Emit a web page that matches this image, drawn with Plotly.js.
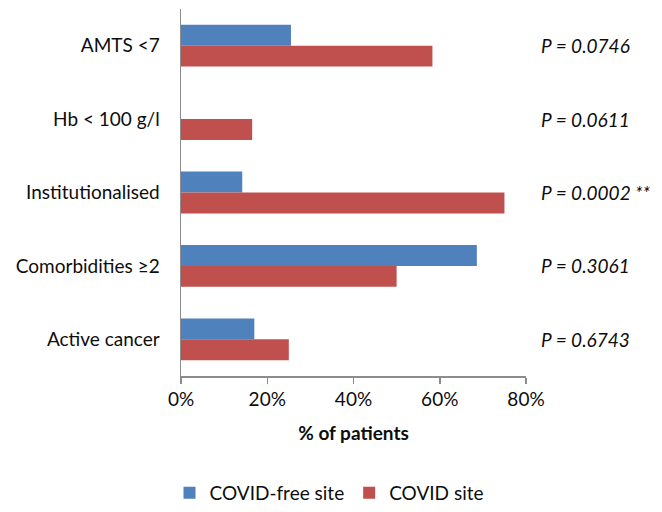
<!DOCTYPE html>
<html>
<head>
<meta charset="utf-8">
<script src="https://cdn.plot.ly/plotly-3.0.1.min.js"></script>
<style>html,body{margin:0;padding:0;background:#fff;}#chart{width:662px;height:512px;}</style>
</head>
<body>
<div id="chart"></div>
<script>
const categories = ["AMTS <7", "Hb < 100 g/l", "Institutionalised", "Comorbidities ≥2", "Active cancer"];
const covidFree = [25.5, 0, 14.2, 68.6, 17.0];
const covidSite = [58.3, 16.5, 75.0, 50.0, 25.0];
const pValues = ["P = 0.0746", "P = 0.0611", "P = 0.0002 **", "P = 0.3061", "P = 0.6743"];
const xTickVals = [0, 20, 40, 60, 80];
const xTickText = ["0%", "20%", "40%", "60%", "80%"];

const FONT = "Lato, 'Open Sans', sans-serif";
const TXT = "#0d0d0d";

const traces = [
  {type: "bar", orientation: "h", name: "COVID-free site", y: categories, x: covidFree,
   marker: {color: "#4F81BD"}},
  {type: "bar", orientation: "h", name: "COVID site", y: categories, x: covidSite,
   marker: {color: "#C0504D"}}
];

const annotations = categories.map((c, i) => ({
  xref: "paper", yref: "y", x: 1.038, y: c, xanchor: "left", yanchor: "middle",
  text: "<i>" + pValues[i] + "</i>", showarrow: false,
  font: {family: FONT, size: 19, color: TXT}
}));

const layout = {
  width: 662, height: 512,
  margin: {l: 181, r: 136, t: 9, b: 136},
  paper_bgcolor: "#fff", plot_bgcolor: "#fff",
  barmode: "group", bargap: 0.43, bargroupgap: 0,
  font: {family: FONT, size: 19, color: TXT},
  xaxis: {
    range: [0, 80], tickvals: xTickVals, ticktext: xTickText,
    showgrid: false, zeroline: false, showline: true, linecolor: "#8c8c8c", linewidth: 1.5,
    ticks: "outside", ticklen: 6, tickcolor: "#8c8c8c", tickwidth: 1.5,
    tickfont: {family: FONT, size: 19, color: TXT},
    title: {text: "<b>% of patients</b>", font: {family: FONT, size: 19, color: TXT}, standoff: 17},
    fixedrange: true
  },
  yaxis: {
    autorange: "reversed", type: "category",
    showgrid: false, zeroline: false, showline: true, linecolor: "#8c8c8c", linewidth: 1.5,
    ticks: "", ticklabelstandoff: 16,
    tickfont: {family: FONT, size: 19, color: TXT},
    fixedrange: true
  },
  legend: {
    orientation: "h", xref: "container", yref: "container",
    x: 0.497, y: 0.0, xanchor: "center", yanchor: "bottom",
    font: {family: FONT, size: 19, color: TXT}, itemwidth: 30
  },
  annotations: annotations,
  showlegend: true
};

Plotly.newPlot("chart", traces, layout, {displayModeBar: false, staticPlot: true});
</script>
</body>
</html>
